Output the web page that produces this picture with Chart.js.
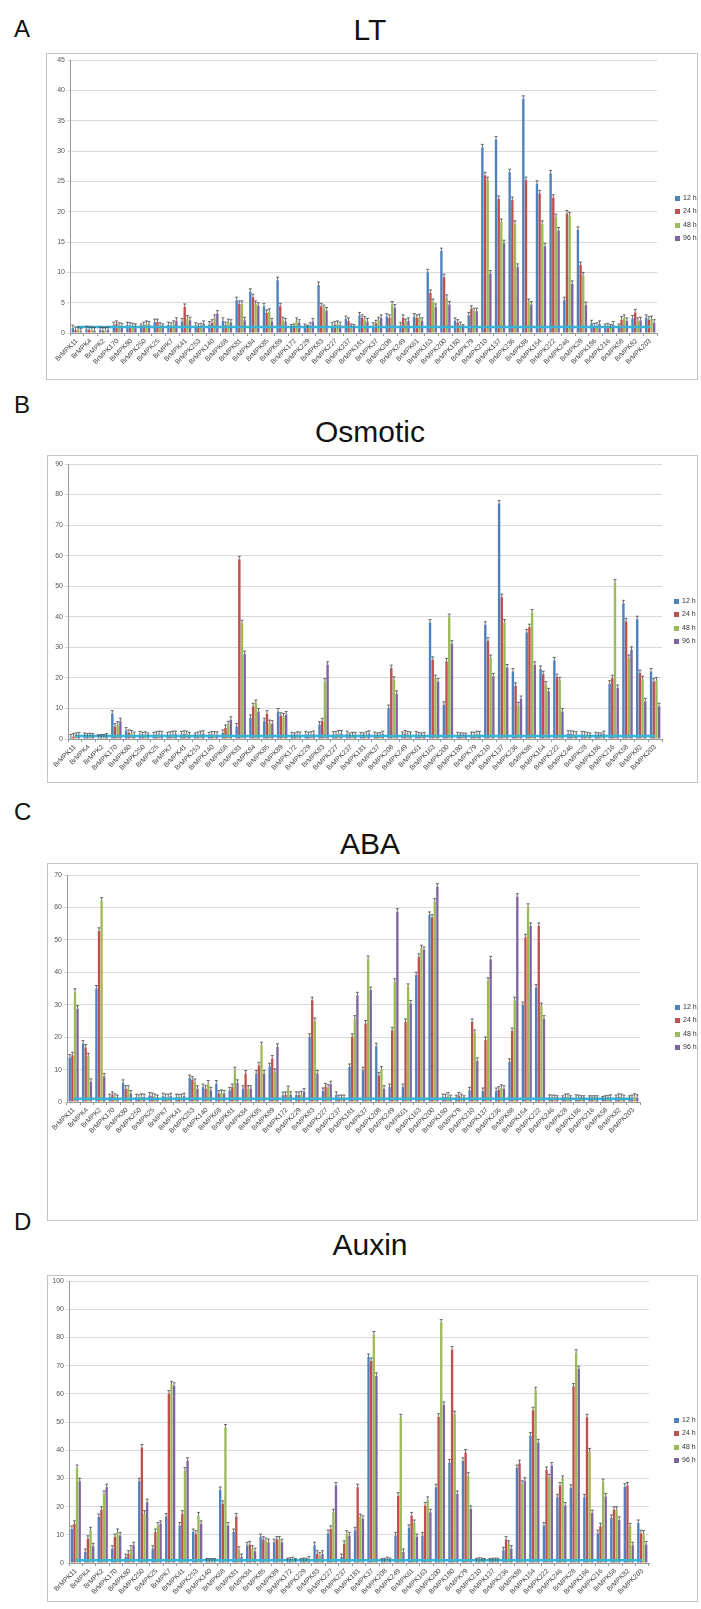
<!DOCTYPE html>
<html lang="en">
<head>
<meta charset="UTF-8">
<title>Expression under LT, Osmotic, ABA and Auxin</title>
<script src="https://cdn.jsdelivr.net/npm/chart.js"></script>
<style>
  body { margin: 0; background: #fff; font-family: "Liberation Sans", Arial, sans-serif; }
  #page { position: relative; width: 701px; height: 1609px; overflow: hidden; }
  .box { position: absolute; border: 1px solid #c4c4c4; box-sizing: border-box; }
  canvas { position: absolute; }
  .letter { position: absolute; left: 14px; font-size: 24px; line-height: 24px; color: #111; }
  .title { position: absolute; font-size: 30px; line-height: 30px; color: #111; transform: translateX(-50%); white-space: nowrap; }
  .legend { position: absolute; font-size: 7px; color: #333; }
  .legend div { height: 13.3px; line-height: 7px; white-space: nowrap; }
  .legend span { display: inline-block; width: 5px; height: 5px; margin-right: 3px; vertical-align: -1px; }
</style>
</head>
<body>
<div id="page"></div>
<script>
// gene names on the x axis
const genes = ['BrMPK11','BrMPK4','BrMPK2','BrMPK170','BrMPK80','BrMPK250','BrMPK25','BrMPK7','BrMPK41','BrMPK253',
  'BrMPK140','BrMPK68','BrMPK81','BrMPK84','BrMPK85','BrMPK89','BrMPK172','BrMPK229','BrMPK83','BrMPK227',
  'BrMPK237','BrMPK181','BrMPK37','BrMPK208','BrMPK249','BrMPK61','BrMPK163','BrMPK200','BrMPK180','BrMPK79',
  'BrMPK210','BrMPK137','BrMPK236','BrMPK88','BrMPK154','BrMPK222','BrMPK246','BrMPK28','BrMPK186','BrMPK216',
  'BrMPK58','BrMPK82','BrMPK203'];
const timePoints = ['12 h', '24 h', '48 h', '96 h'];
const baseline = 1; // control level

// A - LT
const lt12 = [0.8,0.6,0.5,1.3,1.3,1.0,1.8,1.3,1.9,1.2, 1.4,2.0,5.4,6.8,4.4,8.7,0.9,1.0,7.9,1.2,
  2.3,2.9,1.2,2.7,1.2,2.7,10.0,13.5,2.0,2.9, 30.6,31.9,26.5,38.6,24.6,26.3,5.4,17.0,1.6,1.0, 1.0,2.4,2.5];
const lt24 = [0.5,0.5,0.4,1.5,1.2,1.3,1.8,1.2,4.3,1.0, 1.7,1.3,4.8,5.9,3.3,4.4,1.0,0.8,4.4,1.4,
  2.0,2.5,1.6,2.5,2.5,2.5,6.6,9.2,1.7,4.0, 26.0,22.1,21.9,25.2,23.0,22.3,19.7,11.2,1.1,1.1, 2.2,3.4,2.2];
const lt48 = [0.5,0.5,0.4,1.2,1.1,1.5,1.2,1.5,2.4,1.1, 2.5,1.8,4.8,4.8,3.5,2.1,2.0,1.2,4.1,1.5,
  1.0,2.2,2.1,4.7,1.8,2.6,5.1,5.8,1.3,3.6, 25.2,18.3,18.0,5.1,18.0,19.1,19.4,9.5,1.2,0.9, 2.5,2.0,2.3];
const lt96 = [0.3,0.4,0.5,1.1,1.0,1.4,1.0,2.0,2.1,1.5, 3.2,1.7,2.1,4.5,1.9,1.9,1.7,1.9,3.7,1.3,
  0.9,1.9,2.5,4.2,2.0,2.0,4.3,4.7,0.9,3.6, 9.8,14.8,10.9,4.7,14.3,16.9,8.1,4.6,1.5,1.4, 2.0,2.1,1.7];

// B - Osmotic
const osm12 = [0.5,1.0,0.4,8.3,2.8,1.5,1.2,1.2,1.5,1.0, 1.2,2.0,4.1,6.9,5.8,9.0,1.2,1.5,4.7,1.4,
  1.6,1.2,1.3,10.1,1.3,1.5,38.1,11.2,1.2,1.3, 37.4,77.1,22.1,34.9,22.9,25.7,1.7,1.5,1.2,18.1, 44.4,39.2,22.1];
const osm24 = [0.8,0.8,0.5,4.1,2.0,1.2,1.4,1.4,1.7,1.3, 1.5,3.6,58.8,10.7,8.3,7.6,1.0,1.2,5.8,1.5,
  1.0,1.0,1.0,23.2,1.8,1.2,25.9,25.4,1.0,1.2, 32.2,46.4,17.4,36.6,21.2,20.3,1.7,1.4,1.0,19.9, 38.5,21.6,18.8];
const osm48 = [1.0,0.9,0.5,4.7,1.8,1.4,1.6,1.6,1.6,1.6, 1.4,4.8,37.9,11.8,5.2,7.4,1.4,1.4,18.8,1.8,
  1.2,1.4,1.2,19.4,1.5,1.0,19.9,39.9,1.0,1.6, 26.5,38.1,11.0,41.4,17.8,19.2,1.6,1.2,1.0,51.2, 26.5,19.6,19.2];
const osm96 = [1.2,0.8,0.8,5.8,1.3,1.0,1.5,1.6,1.2,1.7, 1.4,6.3,27.8,9.0,5.0,8.0,1.3,1.6,24.3,1.8,
  1.2,1.7,1.6,14.8,1.3,1.2,18.8,31.2,0.9,1.5, 20.5,23.4,13.1,24.3,15.6,9.0,1.4,1.0,1.6,16.7, 29.2,12.3,10.7];

// C - ABA
const aba12 = [13.7,18.0,35.0,1.5,5.9,1.5,2.0,1.8,1.5,7.4, 4.6,5.7,3.6,4.1,8.8,11.0,2.1,2.2,20.1,3.4,
  2.2,10.8,9.8,17.2,4.6,4.6,39.1,57.7,1.5,1.2, 3.6,3.4,3.4,12.4,29.9,35.3,1.3,1.0,1.3,1.0, 0.8,1.2,1.0];
const aba24 = [14.4,16.8,52.8,2.2,4.1,1.3,1.8,1.5,1.4,6.9, 4.1,2.6,4.6,8.8,11.3,13.4,2.2,2.2,31.4,4.8,
  1.2,20.1,24.2,8.2,22.1,24.7,44.8,56.9,1.5,2.0, 24.7,19.1,3.8,21.9,50.8,54.3,1.2,1.5,1.2,1.0, 1.0,1.6,1.2];
const aba48 = [34.0,14.1,62.1,1.6,4.1,1.6,1.5,1.5,1.5,6.2, 5.7,2.8,9.8,4.1,17.5,9.3,4.0,2.4,25.0,4.4,
  1.2,25.7,44.1,10.0,37.1,35.5,47.4,61.8,2.0,1.5, 21.3,37.4,4.4,31.4,60.2,29.6,1.2,1.6,1.0,1.0, 1.1,1.5,1.6];
const aba96 = [28.8,6.2,7.9,1.2,2.6,1.5,1.2,1.8,1.8,4.1, 3.6,2.6,5.9,4.1,8.8,17.0,2.2,3.2,8.8,5.5,
  1.2,32.9,34.5,4.1,58.7,30.4,46.9,66.4,1.2,1.0, 12.7,44.0,4.1,63.3,54.3,25.7,1.0,1.0,1.0,1.0, 1.3,1.2,1.3];

// D - Auxin
const aux12 = [12.1,3.9,16.3,5.1,2.1,29.0,5.1,16.5,13.3,11.0, 0.5,25.9,11.0,6.3,9.2,7.4,0.6,0.5,6.3,10.6,
  2.1,11.6,73.1,0.5,9.8,12.5,9.8,26.9,35.7,36.3, 0.6,0.5,4.5,33.7,45.2,13.3,23.3,26.7,23.3,10.6, 16.0,27.1,14.2];
const aux24 = [13.9,8.6,18.9,9.2,3.3,41.0,11.0,60.1,17.5,10.4, 0.5,21.0,16.5,6.6,8.3,8.3,0.8,0.7,3.3,12.1,
  6.8,26.9,71.7,0.6,23.9,16.9,20.4,51.9,75.8,39.2, 0.8,0.6,8.3,35.4,54.2,33.0,27.5,62.6,51.7,13.0, 18.9,27.5,10.6];
const aux48 = [33.7,11.6,24.5,11.0,5.1,17.5,13.3,63.4,32.8,16.9, 0.5,48.1,4.7,5.1,7.8,8.3,1.0,0.6,2.7,18.0,
  10.4,16.3,81.1,1.0,51.7,14.2,22.4,85.3,52.8,31.0, 0.7,0.7,6.8,28.1,61.3,30.4,29.8,74.6,39.6,28.7, 18.9,13.0,10.4];
const aux96 = [29.0,5.9,26.9,9.8,6.3,21.6,13.9,62.9,36.3,13.9, 0.5,13.3,2.1,4.2,7.4,7.4,0.5,1.2,3.3,27.5,
  9.8,15.7,66.4,0.7,3.9,9.2,18.0,56.1,24.5,19.2, 0.5,0.6,5.1,29.2,42.8,34.6,20.4,68.8,17.7,23.6, 15.3,6.3,6.6];

const colors = ['#4F81BD', '#C0504D', '#9BBB59', '#8064A2'];

// page layout of the four panels (box = outer frame, area = plot area)
const panels = [
  { letter: 'A', title: 'LT', series: [lt12, lt24, lt48, lt96], yMax: 45, step: 5,
    box: { l: 46, t: 53, r: 698, b: 380 }, area: { l: 70, t: 60, r: 657, b: 333 },
    letterY: 17, titleY: 15, legend: { x: 675, y: 194 } },
  { letter: 'B', title: 'Osmotic', series: [osm12, osm24, osm48, osm96], yMax: 90, step: 10,
    box: { l: 47, t: 455, r: 698, b: 783 }, area: { l: 68, t: 464, r: 662, b: 739 },
    letterY: 393, titleY: 417, legend: { x: 674, y: 597 } },
  { letter: 'C', title: 'ABA', series: [aba12, aba24, aba48, aba96], yMax: 70, step: 10,
    box: { l: 47, t: 863, r: 698, b: 1221 }, area: { l: 67, t: 875, r: 640, b: 1102 },
    letterY: 800, titleY: 829, legend: { x: 675, y: 1003 } },
  { letter: 'D', title: 'Auxin', series: [aux12, aux24, aux48, aux96], yMax: 100, step: 10,
    box: { l: 47, t: 1275, r: 698, b: 1602 }, area: { l: 69, t: 1280, r: 649, b: 1563 },
    letterY: 1210, titleY: 1230, legend: { x: 674, y: 1416 } }
];

// small cap drawn on top of every bar, like the error bars in the figure
const capPlugin = {
  id: 'caps',
  afterDatasetsDraw(chart) {
    const ctx = chart.ctx;
    ctx.save();
    ctx.strokeStyle = '#4a4a4a';
    ctx.lineWidth = 0.8;
    chart.data.datasets.forEach((ds, i) => {
      if (ds.type === 'line') return;
      chart.getDatasetMeta(i).data.forEach(bar => {
        ctx.beginPath();
        ctx.moveTo(bar.x, bar.y);
        ctx.lineTo(bar.x, bar.y - 3);
        ctx.moveTo(bar.x - 1.5, bar.y - 3);
        ctx.lineTo(bar.x + 1.5, bar.y - 3);
        ctx.stroke();
      });
    });
    ctx.restore();
  }
};

const page = document.getElementById('page');

panels.forEach(p => {
  const w = p.box.r - p.box.l, h = p.box.b - p.box.t;

  const letter = document.createElement('div');
  letter.className = 'letter';
  letter.style.top = p.letterY + 'px';
  letter.textContent = p.letter;
  page.appendChild(letter);

  const title = document.createElement('div');
  title.className = 'title';
  title.style.left = '370px';
  title.style.top = p.titleY + 'px';
  title.textContent = p.title;
  page.appendChild(title);

  const frame = document.createElement('div');
  frame.className = 'box';
  Object.assign(frame.style, { left: p.box.l + 'px', top: p.box.t + 'px', width: w + 'px', height: h + 'px' });
  page.appendChild(frame);

  const canvas = document.createElement('canvas');
  canvas.width = w;
  canvas.height = h;
  Object.assign(canvas.style, { left: p.box.l + 'px', top: p.box.t + 'px' });
  page.appendChild(canvas);

  const legend = document.createElement('div');
  legend.className = 'legend';
  Object.assign(legend.style, { left: p.legend.x + 'px', top: p.legend.y + 'px' });
  timePoints.forEach((tp, i) => {
    const row = document.createElement('div');
    row.innerHTML = '<span style="background:' + colors[i] + '"></span>' + tp;
    legend.appendChild(row);
  });
  page.appendChild(legend);

  const datasets = p.series.map((vals, i) => ({
    type: 'bar',
    label: timePoints[i],
    data: vals,
    backgroundColor: colors[i],
    categoryPercentage: 0.78,
    barPercentage: 0.9,
    order: 2
  }));
  datasets.push({
    type: 'line',
    label: 'control',
    data: genes.map(() => baseline),
    borderColor: '#35b4d8',
    borderWidth: 2.5,
    pointRadius: 0,
    order: 1
  });

  new Chart(canvas.getContext('2d'), {
    type: 'bar',
    data: { labels: genes, datasets: datasets },
    options: {
      responsive: false,
      animation: false,
      layout: { padding: { left: 0, top: p.area.t - p.box.t, right: p.box.r - p.area.r, bottom: 0 } },
      plugins: { legend: { display: false }, tooltip: { enabled: false } },
      scales: {
        x: {
          grid: { display: true, drawOnChartArea: false, tickLength: 3, color: '#999' },
          border: { color: '#999' },
          ticks: { autoSkip: false, minRotation: 45, maxRotation: 45, padding: 1,
                   font: { size: 6.8, family: 'Liberation Sans' }, color: '#444' },
          afterFit: s => { s.height = p.box.b - p.area.b; }
        },
        y: {
          min: 0, max: p.yMax,
          grid: { color: '#dadada', tickLength: 3 },
          border: { color: '#999' },
          ticks: { stepSize: p.step, padding: 2, font: { size: 7, family: 'Liberation Sans' }, color: '#555' },
          afterFit: s => { s.width = p.area.l - p.box.l; }
        }
      }
    },
    plugins: [capPlugin]
  });
});
</script>
</body>
</html>
